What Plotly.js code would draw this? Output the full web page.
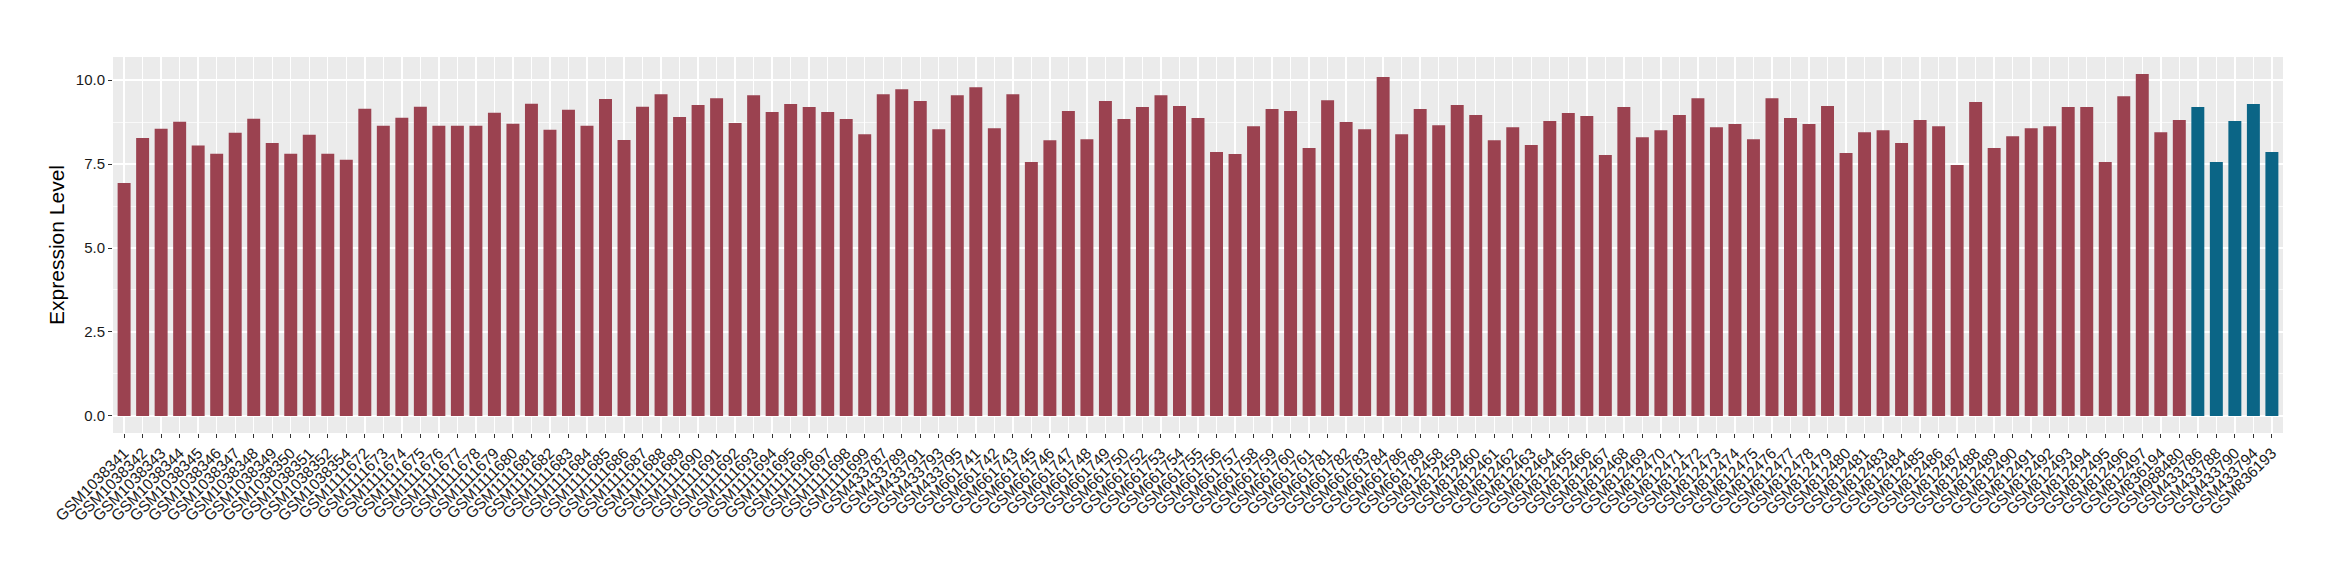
<!DOCTYPE html>
<html>
<head>
<meta charset="utf-8">
<script src="https://cdn.plot.ly/plotly-3.0.1.min.js"></script>
<style>
  html, body { margin: 0; padding: 0; background: #ffffff; }
  #chart { width: 2340px; height: 580px; }
</style>
</head>
<body>
<div id="chart"></div>
<script>
const samples = [
  "GSM1038341","GSM1038342","GSM1038343","GSM1038344","GSM1038345","GSM1038346","GSM1038347","GSM1038348","GSM1038349","GSM1038350","GSM1038351","GSM1038352","GSM1038354",
  "GSM1111672","GSM1111673","GSM1111674","GSM1111675","GSM1111676","GSM1111677","GSM1111678","GSM1111679","GSM1111680","GSM1111681","GSM1111682","GSM1111683","GSM1111684","GSM1111685","GSM1111686","GSM1111687","GSM1111688","GSM1111689","GSM1111690","GSM1111691","GSM1111692","GSM1111693","GSM1111694","GSM1111695","GSM1111696","GSM1111697","GSM1111698","GSM1111699",
  "GSM433787","GSM433789","GSM433791","GSM433793","GSM433795",
  "GSM661741","GSM661742","GSM661743","GSM661745","GSM661746","GSM661747","GSM661748","GSM661749","GSM661750","GSM661752","GSM661753","GSM661754","GSM661755","GSM661756","GSM661757","GSM661758","GSM661759","GSM661760","GSM661761","GSM661781","GSM661782","GSM661783","GSM661784","GSM661786","GSM661789",
  "GSM812458","GSM812459","GSM812460","GSM812461","GSM812462","GSM812463","GSM812464","GSM812465","GSM812466","GSM812467","GSM812468","GSM812469","GSM812470","GSM812471","GSM812472","GSM812473","GSM812474","GSM812475","GSM812476","GSM812477","GSM812478","GSM812479","GSM812480","GSM812481","GSM812483","GSM812484","GSM812485","GSM812486","GSM812487","GSM812488","GSM812489","GSM812490","GSM812491","GSM812492","GSM812493","GSM812494","GSM812495","GSM812496","GSM812497",
  "GSM836194","GSM988480",
  "GSM433786","GSM433788","GSM433790","GSM433794","GSM836193"
];

const expression = [
  6.94,8.28,8.55,8.76,8.05,7.81,8.43,8.85,8.13,7.81,8.37,7.81,7.63,
  9.15,8.64,8.88,9.21,8.64,8.64,8.64,9.03,8.70,9.30,8.52,9.12,8.64,9.44,8.22,9.21,9.58,8.90,9.26,9.46,8.72,9.55,9.05,9.29,9.20,9.05,8.84,8.39,
  9.58,9.73,9.38,8.54,9.55,
  9.79,8.57,9.58,7.56,8.21,9.08,8.24,9.38,8.84,9.20,9.55,9.23,8.87,7.86,7.80,8.63,9.14,9.08,7.98,9.40,8.75,8.54,10.09,8.39,9.14,
  8.66,9.26,8.96,8.21,8.60,8.07,8.78,9.02,8.93,7.77,9.20,8.30,8.51,8.96,9.46,8.60,8.69,8.24,9.46,8.87,8.69,9.23,7.83,8.45,8.51,8.13,8.81,8.63,7.47,9.35,7.98,8.33,8.57,8.63,9.20,9.20,7.56,9.52,10.18,
  8.45,8.81,
  9.20,7.56,8.78,9.29,7.86
];

const groups = samples.map((s, i) => i < 112 ? "other" : "highlight");

const groupColors = { other: "#9b4250", highlight: "#0b6586" };

const yTickVals = [0, 2.5, 5, 7.5, 10];
const yTickText = ["0.0", "2.5", "5.0", "7.5", "10.0"];

const ymax = Math.max(...expression);
const pad = ymax * 0.05;

const trace = {
  type: "bar",
  x: samples,
  y: expression,
  width: 0.7,
  marker: { color: groups.map(g => groupColors[g]), line: { width: 0 } },
  hoverinfo: "x+y",
  showlegend: false
};

const layout = {
  width: 2340,
  height: 580,
  margin: { l: 112.5, r: 57, t: 57, b: 147 },
  paper_bgcolor: "#ffffff",
  plot_bgcolor: "#ebebeb",
  font: { family: "Liberation Sans, Arial, Helvetica, sans-serif", color: "#4d4d4d" },
  bargap: 0.3,
  xaxis: {
    type: "category",
    categoryorder: "array",
    categoryarray: samples,
    range: [-0.6, samples.length - 0.4],
    tickmode: "linear",
    tick0: 0,
    dtick: 1,
    showgrid: true,
    gridcolor: "#ffffff",
    gridwidth: 1.4,
    zeroline: false,
    showline: false,
    ticks: "outside",
    ticklen: 4,
    tickwidth: 1,
    tickcolor: "#333333",
    tickangle: -45,
    tickfont: { size: 15.5, color: "#1a1a1a" },
    automargin: false
  },
  yaxis: {
    range: [-pad, ymax + pad],
    tickmode: "array",
    tickvals: yTickVals,
    ticktext: yTickText,
    showgrid: true,
    gridcolor: "#ffffff",
    gridwidth: 1.4,
    minor: { tickmode: "array", tickvals: [1.25, 3.75, 6.25, 8.75], showgrid: true, gridcolor: "#ffffff", gridwidth: 0.7, ticks: "" },
    zeroline: false,
    showline: false,
    ticks: "outside",
    ticklen: 4,
    tickwidth: 1,
    tickcolor: "#333333",
    tickfont: { size: 15, color: "#1a1a1a" },
    title: { text: "Expression Level", font: { size: 21, color: "#000000" }, standoff: 5 },
    automargin: false
  }
};

Plotly.newPlot("chart", [trace], layout, { staticPlot: true, displayModeBar: false });
</script>
</body>
</html>
